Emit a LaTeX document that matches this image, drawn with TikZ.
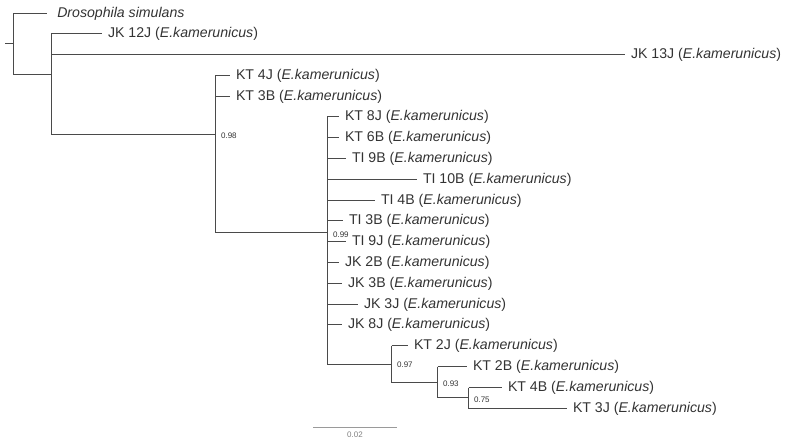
\documentclass[tikz,border=0pt]{standalone}
\usepackage{fontspec}
\setmainfont{Liberation Sans}
\usetikzlibrary{calc}
\definecolor{branchgray}{HTML}{4A4A4A}
\definecolor{labelgray}{HTML}{333333}
\definecolor{bargray}{HTML}{9A9A9A}
\tikzset{
    leaf/.style={anchor=west, inner xsep=4.3pt, inner ysep=1pt, text=labelgray, font=\fontsize{10.6}{12}\selectfont},
    boot/.style={anchor=west, inner sep=0pt, text=labelgray, font=\fontsize{6}{7}\selectfont},
    branch/.style={draw=branchgray, line width=0.75pt},
}
\newcommand{\ek}{(\textit{E.kamerunicus})}
\begin{document}
\begin{tikzpicture}[x=0.75pt, y=-0.75pt]
    \useasboundingbox (0,0) rectangle (787,442);

    % Internal nodes
    \coordinate (stem) at (5,43.5);
    \coordinate (root) at (13.5,43.5);
    \coordinate (A) at (51.5,74.5);
    \coordinate (B) at (215.5,134.5);
    \coordinate (C) at (327.5,232.5);
    \coordinate (D) at (391.5,364.5);
    \coordinate (E) at (437.5,382.5);
    \coordinate (F) at (468.5,397.5);

    % Tips
    \node[leaf, inner xsep=7.5pt] (dros) at (47,13.5) {\textit{Drosophila simulans}};
    \node[leaf] (jk12j) at (102,33.5) {JK 12J \ek};
    \node[leaf] (jk13j) at (625,54.5) {JK 13J \ek};
    \node[leaf] (kt4j) at (230,75.5) {KT 4J \ek};
    \node[leaf] (kt3b) at (230,96.5) {KT 3B \ek};
    \node[leaf] (kt8j) at (339,116.5) {KT 8J \ek};
    \node[leaf] (kt6b) at (339,137.5) {KT 6B \ek};
    \node[leaf] (ti9b) at (346,158.5) {TI 9B \ek};
    \node[leaf] (ti10b) at (417,179.5) {TI 10B \ek};
    \node[leaf] (ti4b) at (375,200.5) {TI 4B \ek};
    \node[leaf] (ti3b) at (343,220.5) {TI 3B \ek};
    \node[leaf] (ti9j) at (346,241.5) {TI 9J \ek};
    \node[leaf] (jk2b) at (339,262.5) {JK 2B \ek};
    \node[leaf] (jk3b) at (342,283.5) {JK 3B \ek};
    \node[leaf] (jk3j) at (358,304.5) {JK 3J \ek};
    \node[leaf] (jk8j) at (342,324.5) {JK 8J \ek};
    \node[leaf] (kt2j) at (408,345.5) {KT 2J \ek};
    \node[leaf] (kt2b) at (467,366.5) {KT 2B \ek};
    \node[leaf] (kt4b) at (502,387.5) {KT 4B \ek};
    \node[leaf] (kt3j) at (567,408.5) {KT 3J \ek};

    % Branches: one vertical per node, then the horizontals
    \draw[branch] (stem) -- (root);
    \draw[branch] (root |- dros.west) -- (root |- A) -- (A);
    \draw[branch] (root |- dros.west) -- (dros.west);
    \draw[branch] (A |- jk12j.west) -- (A |- B) -- (B);
    \draw[branch] (A |- jk12j.west) -- (jk12j.west);
    \draw[branch] (A |- jk13j.west) -- (jk13j.west);
    \draw[branch] (B |- kt4j.west) -- (B |- C) -- (C);
    \draw[branch] (B |- kt4j.west) -- (kt4j.west);
    \draw[branch] (B |- kt3b.west) -- (kt3b.west);
    \draw[branch] (C |- kt8j.west) -- (C |- D) -- (D);
    \foreach \t in {kt8j,kt6b,ti9b,ti10b,ti4b,ti3b,ti9j,jk2b,jk3b,jk3j,jk8j}
        \draw[branch] (C |- \t.west) -- (\t.west);
    \draw[branch] (D |- kt2j.west) -- (D |- E) -- (E);
    \draw[branch] (D |- kt2j.west) -- (kt2j.west);
    \draw[branch] (E |- kt2b.west) -- (E |- F) -- (F);
    \draw[branch] (E |- kt2b.west) -- (kt2b.west);
    \draw[branch] (F |- kt4b.west) -- (F |- kt3j.west) -- (kt3j.west);
    \draw[branch] (F |- kt4b.west) -- (kt4b.west);

    % Support values
    \node[boot] (sB) at ([xshift=4pt, yshift=-1.2pt]B) {0.98};
    \node[boot] (sC) at ([xshift=4pt, yshift=-1.6pt]C) {0.99};
    \node[boot] (sD) at ([xshift=4pt, yshift=0pt]D) {0.97};
    \node[boot] (sE) at ([xshift=4pt, yshift=-1.2pt]E) {0.93};
    \node[boot] (sF) at ([xshift=4pt, yshift=-1.8pt]F) {0.75};

    % Scale bar
    \coordinate (barL) at (313,427.5);
    \coordinate (barR) at (397,427.5);
    \draw[draw=bargray, line width=0.75pt] (barL) -- (barR);
    \node[text=gray, font=\fontsize{6}{7}\selectfont, anchor=north, inner sep=1pt] (barlab) at ([yshift=-2pt]$(barL)!0.5!(barR)$) {0.02};
\end{tikzpicture}
\end{document}
